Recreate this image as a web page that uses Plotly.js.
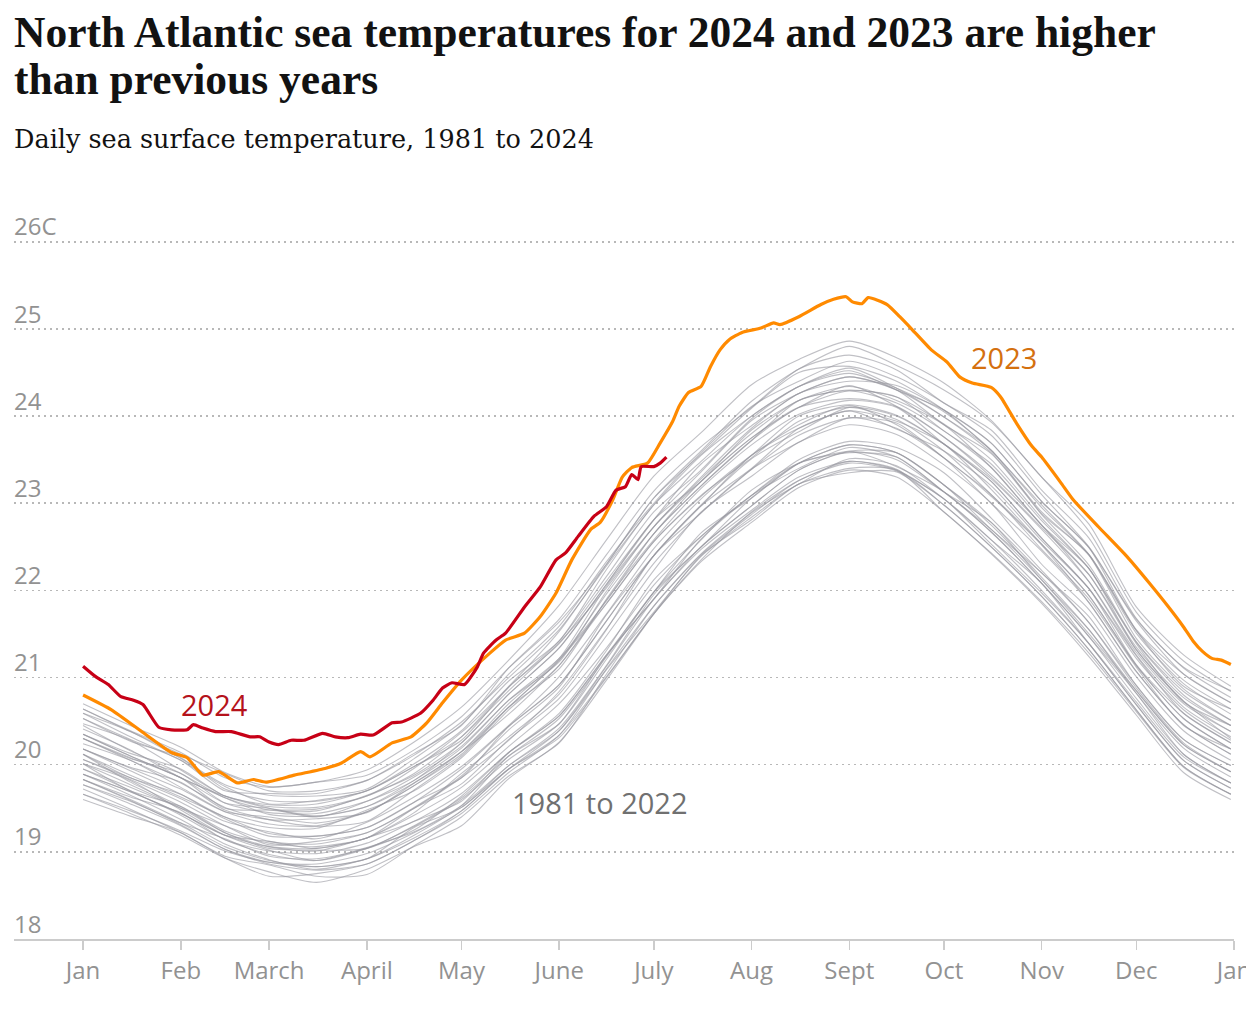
<!DOCTYPE html>
<html>
<head>
<meta charset="utf-8">
<script src="https://cdn.plot.ly/plotly-3.0.1.min.js"></script>
<style>html,body{margin:0;padding:0;background:#fff;}#chart{width:1246px;height:1010px;}</style>
</head>
<body>
<div id="chart"></div>
<script>
// ---- tick labels ----
const monthTicks = [0, 31, 59, 90, 120, 151, 181, 212, 243, 273, 304, 334, 365];
const monthLabels = ["Jan", "Feb", "March", "April", "May", "June", "July", "Aug", "Sept", "Oct", "Nov", "Dec", "Jan"];
const tempTicks = [18, 19, 20, 21, 22, 23, 24, 25, 26];
const tempLabels = ["18", "19", "20", "21", "22", "23", "24", "25", "26C"];

// ---- 1981 to 2022 (grey), day of year sample points ----
const greyDays = [0,15,31,45,59,74,90,105,120,135,151,166,181,196,212,227,243,258,273,288,304,319,334,349,364];
const t1981 = [20.01,19.77,19.50,19.22,19.06,19.01,19.16,19.35,19.67,20.14,20.56,21.26,21.90,22.59,23.09,23.50,23.71,23.64,23.35,22.83,22.23,21.63,20.88,20.25,19.92];
const t1982 = [19.89,19.65,19.37,19.09,18.91,18.80,18.92,19.16,19.47,19.95,20.31,21.00,21.73,22.35,22.90,23.26,23.48,23.38,23.05,22.58,22.00,21.39,20.69,20.05,19.73];
const t1983 = [19.77,19.58,19.33,19.15,18.95,18.92,19.04,19.25,19.64,20.14,20.59,21.31,22.12,22.62,23.09,23.46,23.58,23.53,23.13,22.67,22.08,21.47,20.76,20.12,19.79];
const t1984 = [19.83,19.59,19.31,19.03,18.86,18.79,18.86,19.13,19.47,19.95,20.39,21.13,21.90,22.47,22.92,23.30,23.48,23.39,22.98,22.50,21.93,21.32,20.63,19.98,19.66];
const t1985 = [19.72,19.49,19.22,18.95,18.85,18.72,18.74,19.07,19.40,19.87,20.25,21.04,21.82,22.42,22.89,23.22,23.51,23.43,23.05,22.58,22.08,21.39,20.69,20.05,19.73];
const t1986 = [19.66,19.47,19.24,19.01,18.88,18.86,18.98,19.22,19.51,19.95,20.34,21.01,21.73,22.33,22.78,23.18,23.38,23.30,22.90,22.42,21.85,21.24,20.57,19.91,19.60];
const t1987 = [19.83,19.63,19.45,19.14,19.01,18.98,19.10,19.35,19.58,20.14,20.56,21.26,21.98,22.66,23.06,23.46,23.67,23.58,23.21,22.70,22.20,21.63,20.91,20.29,19.99];
const t1988 = [20.01,19.82,19.48,19.19,19.02,18.90,19.04,19.29,19.60,20.06,20.47,21.25,21.90,22.50,22.97,23.38,23.59,23.42,23.13,22.67,22.08,21.47,20.82,20.12,19.79];
const t1989 = [19.83,19.60,19.33,19.06,18.90,18.83,18.92,19.19,19.53,20.10,20.47,21.21,21.98,22.58,23.15,23.46,23.60,23.58,23.21,22.75,22.15,21.55,20.82,20.19,19.86];
const t1990 = [19.89,19.69,19.44,19.19,19.12,19.04,19.16,19.42,19.74,20.21,20.70,21.34,22.06,22.62,23.09,23.40,23.64,23.53,23.13,22.70,22.12,21.50,20.85,20.23,19.92];
const t1991 = [19.95,19.70,19.42,19.14,18.97,18.90,19.05,19.23,19.53,19.99,20.39,21.09,21.75,22.39,22.84,23.22,23.40,23.38,22.90,22.43,21.87,21.28,20.61,19.97,19.66];
const t1992 = [19.66,19.44,19.19,18.93,18.77,18.65,18.80,19.06,19.30,19.84,20.26,20.97,21.73,22.40,22.81,23.22,23.35,23.36,22.98,22.50,21.93,21.32,20.63,19.98,19.66];
const t1993 = [19.60,19.41,19.22,18.93,18.72,18.75,18.86,19.13,19.44,19.91,20.34,21.10,21.82,22.41,22.87,23.26,23.46,23.37,23.05,22.53,21.97,21.39,20.72,20.09,19.79];
const t1994 = [19.77,19.55,19.30,19.03,18.88,18.83,18.92,19.28,19.51,19.99,20.42,21.14,21.95,22.50,22.97,23.38,23.59,23.50,23.13,22.78,22.12,21.55,20.85,20.23,19.92];
const t1995 = [19.95,19.74,19.50,19.30,19.12,19.09,19.22,19.50,19.85,20.28,20.84,21.56,22.31,22.89,23.39,23.70,23.98,23.86,23.52,23.08,22.52,21.86,21.07,20.46,20.12];
const t1996 = [20.12,19.80,19.52,19.22,19.04,19.02,19.04,19.30,19.62,20.10,20.53,21.24,21.98,22.50,23.06,23.46,23.67,23.58,23.21,22.78,22.20,21.70,20.91,20.29,19.99];
const t1997 = [19.89,19.69,19.44,19.19,19.06,19.04,19.16,19.45,19.90,20.32,20.81,21.55,22.40,22.89,23.39,23.78,23.98,23.92,23.52,23.10,22.47,21.90,21.12,20.45,20.18];
const t1998 = [20.18,19.97,19.80,19.48,19.37,19.38,19.45,19.79,20.15,20.66,21.20,21.85,22.56,23.08,23.55,23.90,24.12,23.90,23.52,23.00,22.45,21.86,21.07,20.46,20.12];
const t1999 = [20.06,19.83,19.57,19.30,19.08,19.12,19.22,19.51,19.87,20.40,20.89,21.72,22.40,22.97,23.40,23.86,24.06,23.94,23.68,23.16,22.53,21.94,21.14,20.53,20.18];
const t2000 = [20.01,19.70,19.52,19.24,19.10,19.06,19.16,19.50,19.78,20.29,20.76,21.48,22.23,22.90,23.31,23.70,23.90,23.79,23.44,23.00,22.30,21.78,21.01,20.39,20.05];
const t2001 = [20.06,19.85,19.61,19.35,19.23,19.15,19.34,19.63,19.98,20.45,21.01,21.73,22.48,23.05,23.55,24.00,24.13,24.01,23.68,23.25,22.60,22.02,21.25,20.59,20.25];
const t2002 = [20.12,19.88,19.63,19.40,19.21,19.18,19.28,19.57,19.85,20.44,20.92,21.65,22.40,22.97,23.55,23.86,24.06,23.85,23.60,23.20,22.57,22.02,21.22,20.63,20.28];
const t2003 = [20.24,20.05,19.74,19.46,19.32,19.29,19.35,19.71,20.10,20.66,21.20,21.96,22.65,23.25,23.75,24.10,24.35,24.11,23.76,23.33,22.75,22.10,21.26,20.66,20.32];
const t2004 = [20.18,19.96,19.72,19.46,19.40,19.33,19.46,19.76,20.12,20.66,21.10,21.90,22.65,23.20,23.72,24.18,24.29,24.15,23.83,23.41,22.75,22.25,21.32,20.73,20.38];
const t2005 = [20.30,20.07,19.90,19.56,19.45,19.44,19.58,19.82,20.25,20.81,21.34,22.07,22.81,23.45,23.89,24.26,24.45,24.30,23.90,23.57,22.87,22.29,21.41,20.80,20.45];
const t2006 = [20.30,20.05,19.79,19.51,19.37,19.30,19.46,19.76,20.15,20.70,21.22,22.05,22.73,23.28,23.80,24.18,24.30,24.22,23.91,23.50,22.83,22.25,21.39,20.72,20.45];
const t2007 = [20.35,20.10,19.85,19.62,19.43,19.41,19.52,19.79,20.15,20.58,21.14,21.85,22.56,23.09,23.52,23.94,24.10,23.96,23.60,23.10,22.53,21.94,21.14,20.53,20.18];
const t2008 = [20.12,19.85,19.66,19.40,19.28,19.27,19.48,19.70,20.08,20.63,21.14,21.89,22.58,23.17,23.67,24.02,24.18,24.10,23.68,23.25,22.60,22.02,21.15,20.59,20.25];
const t2009 = [20.18,19.93,19.66,19.38,19.18,19.18,19.28,19.57,19.95,20.44,20.92,21.65,22.40,22.98,23.51,23.82,24.10,24.00,23.68,23.28,22.70,22.10,21.29,20.70,20.38];
const t2010 = [20.35,20.13,19.95,19.64,19.54,19.55,19.70,20.01,20.39,20.96,21.42,22.24,22.98,23.48,24.00,24.34,24.55,24.32,23.99,23.58,22.90,22.40,21.45,20.87,20.51];
const t2011 = [20.45,20.16,19.90,19.62,19.48,19.47,19.65,19.88,20.25,20.81,21.34,22.07,22.81,23.25,23.84,24.18,24.34,24.18,23.90,23.41,22.75,22.18,21.32,20.73,20.30];
const t2012 = [20.30,20.08,19.85,19.50,19.48,19.49,19.64,19.96,20.37,20.90,21.53,22.30,23.06,23.56,24.09,24.50,24.57,24.40,24.07,23.60,22.98,22.41,21.51,20.93,20.58];
const t2013 = [20.47,20.28,19.94,19.64,19.50,19.40,19.58,19.86,20.21,20.74,21.22,21.88,22.65,23.20,23.72,24.10,24.29,24.22,23.83,23.45,22.80,22.25,21.41,20.84,20.51];
const t2014 = [20.35,20.10,19.85,19.56,19.50,19.41,19.52,19.82,20.19,20.74,21.18,21.99,22.73,23.30,23.86,24.26,24.40,24.35,24.07,23.69,23.02,22.49,21.65,21.04,20.71];
const t2015 = [20.53,20.27,20.08,19.72,19.59,19.58,19.70,19.98,20.28,20.89,21.39,22.11,22.81,23.36,23.95,24.26,24.45,24.30,23.99,23.61,22.88,22.41,21.54,20.97,20.64];
const t2016 = [20.53,20.29,20.05,19.70,19.67,19.67,19.82,20.11,20.49,21.00,21.55,22.28,22.98,23.55,24.00,24.34,24.49,24.32,24.05,23.61,22.95,22.41,21.54,20.90,20.64];
const t2017 = [20.59,20.38,20.07,19.77,19.65,19.64,19.72,20.07,20.46,21.04,21.59,22.33,23.00,23.58,24.11,24.40,24.63,24.45,24.15,23.78,23.10,22.50,21.67,21.11,20.77];
const t2018 = [20.59,20.32,20.05,19.75,19.55,19.59,19.70,19.98,20.32,20.85,21.40,22.03,22.73,23.25,23.75,24.10,24.20,24.11,23.76,23.30,22.72,22.18,21.35,20.77,20.45];
const t2019 = [20.41,20.17,19.85,19.64,19.52,19.51,19.64,19.90,20.32,20.89,21.42,22.16,22.90,23.38,23.97,24.34,24.52,24.30,24.07,23.69,23.02,22.49,21.55,21.04,20.71];
const t2020 = [20.64,20.38,20.12,19.90,19.70,19.70,19.82,20.13,20.45,21.11,21.67,22.41,23.14,23.65,24.10,24.54,24.70,24.53,24.15,23.84,23.15,22.60,21.68,21.12,20.85];
const t2021 = [20.64,20.39,20.14,19.85,19.74,19.80,19.88,20.17,20.55,21.11,21.64,22.30,23.06,23.60,24.17,24.54,24.80,24.58,24.30,23.93,23.30,22.68,21.75,21.19,20.84];
const t2022 = [20.70,20.45,20.20,19.91,19.75,19.80,19.94,20.26,20.66,21.20,21.83,22.58,23.31,23.81,24.36,24.65,24.86,24.67,24.38,23.95,23.30,22.76,21.81,21.26,20.90];
const greyYears = [t1981,t1982,t1983,t1984,t1985,t1986,t1987,t1988,t1989,t1990,t1991,t1992,t1993,t1994,t1995,t1996,t1997,t1998,t1999,t2000,t2001,t2002,t2003,t2004,t2005,t2006,t2007,t2008,t2009,t2010,t2011,t2012,t2013,t2014,t2015,t2016,t2017,t2018,t2019,t2020,t2021,t2022];

// ---- 2023 (orange) ----
const days2023 = [0,9,19,28,33,38,43,49,54,58,67,77,82,88,91,98,104,109,114,120,129,134,140,145,150,155,161,164,168,171,174,179,183,187,189,192,196,199,202,205,209,215,219,221,227,234,238,242,244,247,249,255,259,263,269,274,278,282,288,291,296,301,304,310,314,322,331,338,344,349,352,355,358,361,364];
const temp2023 = [20.80,20.63,20.37,20.14,20.08,19.88,19.92,19.79,19.83,19.80,19.88,19.96,20.02,20.15,20.09,20.25,20.32,20.48,20.71,20.97,21.28,21.43,21.51,21.70,21.97,22.35,22.70,22.78,23.04,23.30,23.41,23.46,23.69,23.94,24.11,24.27,24.34,24.57,24.76,24.88,24.96,25.01,25.07,25.05,25.14,25.28,25.34,25.37,25.31,25.29,25.36,25.28,25.14,24.99,24.76,24.62,24.45,24.38,24.33,24.22,23.92,23.65,23.53,23.24,23.04,22.73,22.39,22.09,21.82,21.58,21.42,21.30,21.22,21.20,21.15];

// ---- 2024 (red) ----
const days2024 = [0,4,8,12,16,19,24,28,33,35,38,42,47,53,56,59,62,66,70,76,80,84,88,92,98,101,107,111,114,117,121,125,127,131,134,140,145,150,153,157,162,166,169,172,174,176,177,181,183,185];
const temp2024 = [21.13,21.01,20.92,20.78,20.74,20.69,20.43,20.40,20.40,20.46,20.42,20.38,20.38,20.32,20.32,20.26,20.23,20.28,20.28,20.36,20.32,20.31,20.35,20.34,20.48,20.49,20.59,20.74,20.88,20.94,20.92,21.12,21.28,21.43,21.51,21.81,22.04,22.35,22.43,22.62,22.85,22.96,23.15,23.19,23.33,23.27,23.42,23.42,23.46,23.53];

const traces = [];
greyYears.forEach(function (vals) {
  traces.push({
    x: greyDays, y: vals, type: 'scatter', mode: 'lines', hoverinfo: 'skip',
    line: {color: 'rgba(150,150,158,0.6)', width: 1.1, shape: 'spline', smoothing: 0.7}
  });
});
traces.push({
  x: days2023, y: temp2023, type: 'scatter', mode: 'lines',
  line: {color: '#ff8a00', width: 3.2, shape: 'spline', smoothing: 0.5}
});
traces.push({
  x: days2024, y: temp2024, type: 'scatter', mode: 'lines',
  line: {color: '#c70016', width: 3.2, shape: 'spline', smoothing: 0.5}
});

const tickFont = {family: 'Open Sans, sans-serif', size: 24, color: '#929292'};

const layout = {
  width: 1246, height: 1010,
  margin: {l: 14, r: 12, t: 220, b: 71, pad: 0},
  paper_bgcolor: '#ffffff', plot_bgcolor: '#ffffff',
  showlegend: false,
  font: {family: 'Open Sans, sans-serif'},
  xaxis: {
    range: [-21.9, 365], tickmode: 'array', tickvals: monthTicks, ticktext: monthLabels,
    showgrid: false, zeroline: false, showline: true, linecolor: '#cccccc', linewidth: 1.5,
    ticks: 'outside', ticklen: 9, tickwidth: 1.5, tickcolor: '#cccccc',
    tickfont: tickFont, ticklabelstandoff: 1, ticklabeloverflow: 'allow', fixedrange: true
  },
  yaxis: {
    range: [18, 26.25], tickmode: 'array', tickvals: tempTicks, ticktext: tempLabels,
    ticklabelposition: 'inside top', ticklabeloverflow: 'allow', ticklabelshift: 2, ticklabelstandoff: -3,
    showgrid: true, gridcolor: '#b8b8b8', gridwidth: 1.5, griddash: '2px,4px',
    zeroline: false, showline: false, ticks: '', tickfont: tickFont, fixedrange: true
  },
  annotations: [
    {text: 'North Atlantic sea temperatures for 2024 and 2023 are higher', xref: 'paper', yref: 'paper',
     x: 0, y: 1.262, xanchor: 'left', yanchor: 'middle', showarrow: false, xshift: -2,
     font: {family: 'Liberation Serif, serif', size: 43.5, color: '#121212', weight: 700}},
    {text: 'than previous years', xref: 'paper', yref: 'paper',
     x: 0, y: 1.196, xanchor: 'left', yanchor: 'middle', showarrow: false, xshift: -2,
     font: {family: 'Liberation Serif, serif', size: 43.5, color: '#121212', weight: 700}},
    {text: 'Daily sea surface temperature, 1981 to 2024', xref: 'paper', yref: 'paper',
     x: 0, y: 1.113, xanchor: 'left', yanchor: 'middle', showarrow: false, xshift: -2,
     font: {family: 'DejaVu Serif, serif', size: 25.5, color: '#121212'}},
    {text: '2024', x: 41.8, y: 20.69, xref: 'x', yref: 'y', showarrow: false,
     font: {family: 'Open Sans, sans-serif', size: 29, color: '#b5121b'}},
    {text: '2023', x: 291.9, y: 24.67, xref: 'x', yref: 'y', showarrow: false,
     font: {family: 'Open Sans, sans-serif', size: 29, color: '#d4700f'}},
    {text: '1981 to 2022', x: 163.9, y: 19.57, xref: 'x', yref: 'y', showarrow: false,
     font: {family: 'Open Sans, sans-serif', size: 29, color: '#707070'}}
  ]
};

Plotly.newPlot('chart', traces, layout, {staticPlot: true, displayModeBar: false});
</script>
</body>
</html>
